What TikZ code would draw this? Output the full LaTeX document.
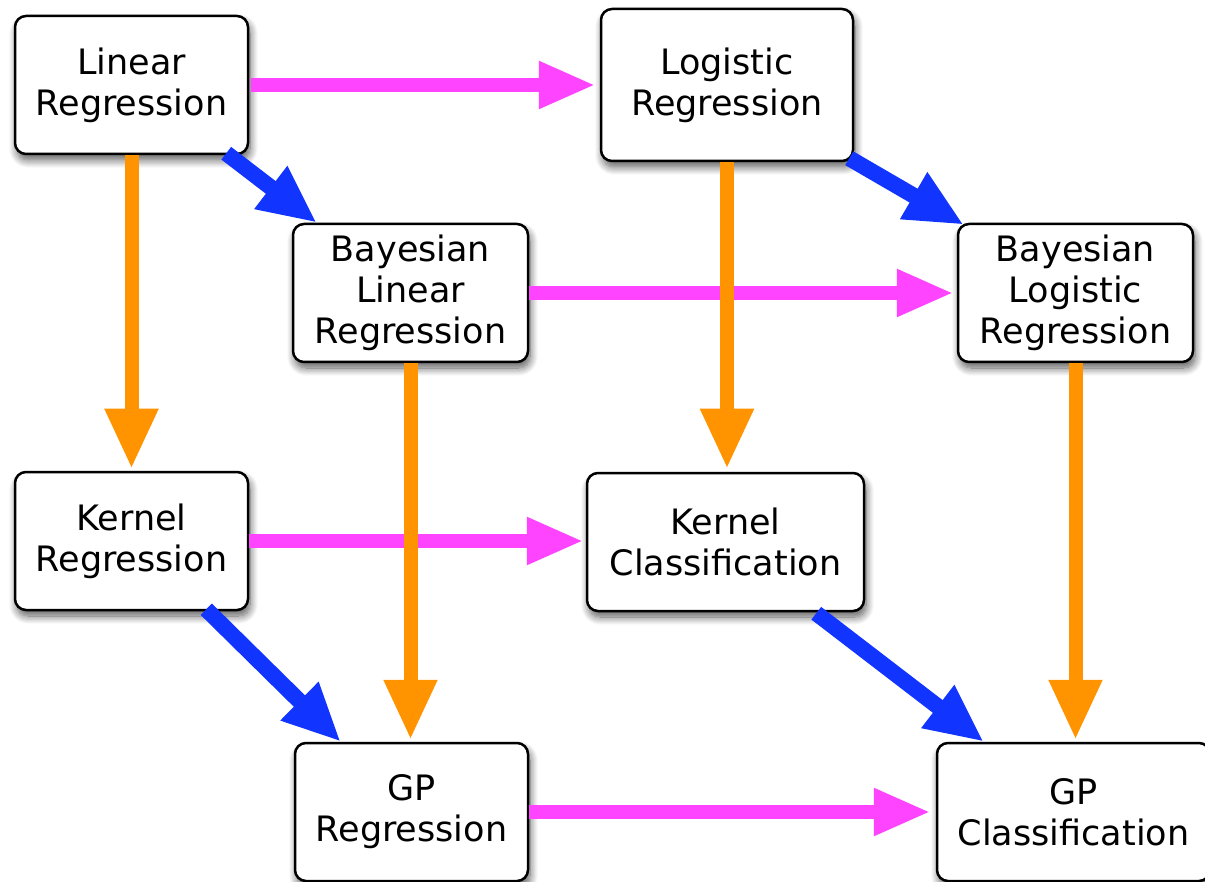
\documentclass[tikz,border=0pt]{standalone}
\usepackage{fontspec}
\setmainfont{DejaVu Sans}
\usetikzlibrary{arrows.meta,calc,shadows.blur}
\definecolor{pinkc}{HTML}{FF44FF}
\definecolor{orangec}{HTML}{FF9400}
\definecolor{bluec}{HTML}{1234FF}
\tikzset{
  box/.style={draw=black, line width=2.5pt, rounded corners=11pt, fill=white,
    align=center, inner sep=0pt, minimum height=138pt,
    font=\fontsize{35}{41}\selectfont,
    blur shadow={shadow xshift=2pt, shadow yshift=-6pt, shadow blur steps=10, shadow blur radius=8pt, shadow opacity=65}},
  parr/.style={draw=pinkc, line width=14pt, -{Triangle[length=57pt,width=44pt]}},
  oarr/.style={draw=orangec, line width=14pt, -{Triangle[length=60pt,width=50pt]}},
  barr/.style={draw=bluec, line width=16pt, -{Triangle[length=58pt,width=50pt]}}
}
\begin{document}
\begin{tikzpicture}[x=1pt,y=-1pt]
\useasboundingbox (0,0) rectangle (1205,882);
\clip (0,0) rectangle (1205,882);
\node[box, minimum width=233pt] (lin) at (131.5,85) {Linear\\Regression};
\node[box, minimum width=252pt, minimum height=152pt] (log) at (727,85) {Logistic\\Regression};
\node[box, minimum width=235pt] (bli) at (410.5,293) {Bayesian\\Linear\\Regression};
\node[box, minimum width=235pt] (blo) at (1075.5,293) {Bayesian\\Logistic\\Regression};
\node[box, minimum width=233pt] (kr) at (131.5,541) {Kernel\\Regression};
\node[box, minimum width=277pt] (kc) at (725.5,542) {Kernel\\Classification};
\node[box, minimum width=233pt] (gpr) at (411.5,812) {GP\\Regression};
\node[box, minimum width=273pt] (gpc) at (1073.5,812) {GP\\Classification};

% pink arrows
\draw[parr, shorten <=2pt, shorten >=4pt] (lin.east) -- (log.west |- lin.east);
\draw[parr, shorten <=0pt, shorten >=3pt] (bli.east) -- (blo.west);
\draw[parr, shorten <=0pt, shorten >=2pt] (kr.east) -- (kc.west |- kr.east);
\draw[parr, shorten <=0pt, shorten >=5pt] (gpr.east) -- (gpc.west);
% orange arrows
\draw[oarr, shorten >=2pt] (lin.south) -- (kr.north);
\draw[oarr, shorten >=3pt] (log.south) -- (kc.north -| log.south);
\draw[oarr, shorten >=2pt] (bli.south) -- (gpr.north -| bli.south);
\draw[oarr, shorten >=2pt] (blo.south) -- (gpc.north -| blo.south);
% blue arrows
\draw[barr] ($(lin.south east)+(-23,-2)$) -- ($(bli.north west)+(25,0)$);
\draw[barr] ($(log.south east)+(-5,-4)$) -- ($(blo.north west)+(7,2)$);
\draw[barr] ($(kr.south east)+(-43,-2)$) -- ($(gpr.north west)+(47,0)$);
\draw[barr] ($(kc.south east)+(-49,1)$) -- ($(gpc.north west)+(48,0)$);
\end{tikzpicture}
\end{document}
